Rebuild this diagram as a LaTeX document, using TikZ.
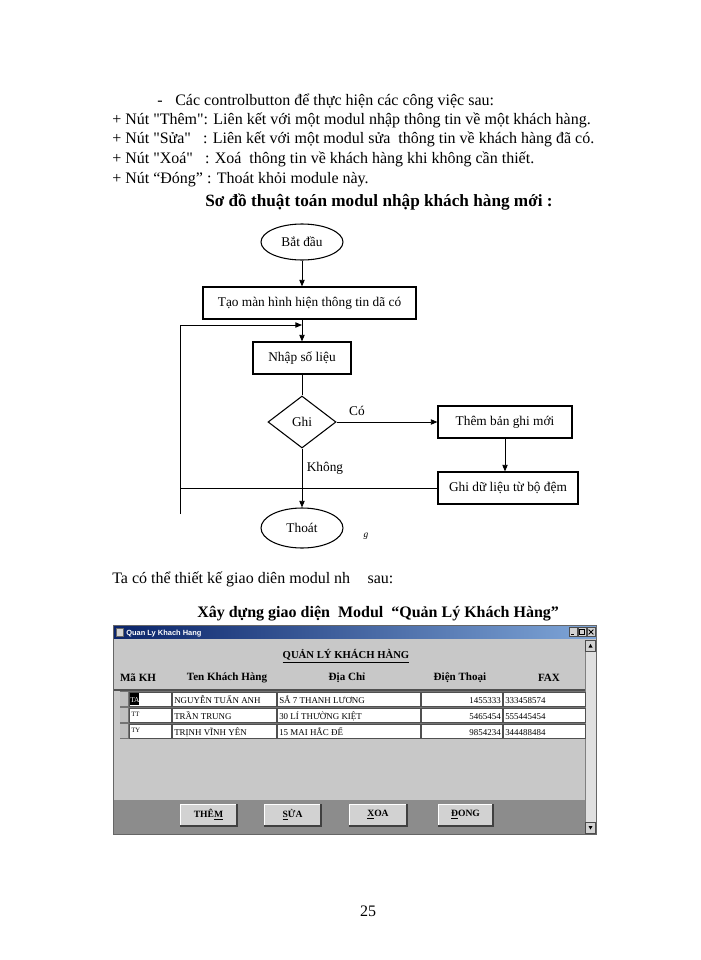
\documentclass[tikz,border=0pt]{standalone}
\usepackage{fontspec}
\setmainfont{Liberation Serif}
\newfontfamily\qfont{Liberation Serif}
\newfontfamily\uisans{Liberation Sans}
\newcommand\sq{{\qfont"}}
\usetikzlibrary{shapes.geometric,arrows.meta}
\definecolor{winbg}{HTML}{C8C8C8}
\definecolor{bardark}{HTML}{8C8C8C}
\definecolor{btnface}{HTML}{D2D2D2}
\definecolor{tbl}{HTML}{0A246A}
\definecolor{tbr}{HTML}{7FA6D8}
\definecolor{rowline}{HTML}{505050}
\begin{document}
\begin{tikzpicture}[x=0.75pt,y=-0.75pt,
  txt/.style={anchor=base west,inner sep=0pt,font=\fontsize{12}{14}\selectfont},
  head/.style={anchor=base west,inner sep=0pt,font=\fontsize{12.9}{14}\selectfont\bfseries},
  fc/.style={font=\fontsize{10}{11}\selectfont},
  procbox/.style={fc,draw,line width=0.8pt,minimum height=24pt,inner sep=2pt},
  term/.style={fc,draw,ellipse,line width=0.8pt,inner sep=0pt},
  dec/.style={fc,draw,diamond,line width=0.8pt,inner sep=0pt,minimum width=51pt,minimum height=39pt},
  ln/.style={line width=0.7pt},
  arr/.style={ln,-{Triangle[length=5pt,width=4pt]}},
  lbl/.style={fc,inner sep=0pt},
  cell/.style={fill=white,draw=rowline,line width=0.5pt},
  ctext/.style={inner sep=0pt,font=\fontsize{6.7}{7}\selectfont},
  colh/.style={inner sep=0pt,font=\fontsize{8.3}{10}\selectfont\bfseries},
  winbtn/.style={fill=btnface,draw=black!70,line width=0.5pt},
  btxt/.style={inner sep=0pt,font=\fontsize{7.2}{8}\selectfont\bfseries}
]
\useasboundingbox (0,0) rectangle (700,960);

% ---------------- top text ----------------
\node[txt] (t0) at (157,105) {-};
\node[txt] (t1) at (175,105) {Các controlbutton để thực hiện các công việc sau:};
\node[txt] (t2) at (112,124) {+ Nút \sq Thêm\sq: Liên kết với một modul nhập thông tin về một khách hàng.};
\node[txt] (t3) at (112,143) {+ Nút \sq Sửa\sq\hspace{6pt} : Liên kết với một modul sửa\ \ thông tin về khách hàng đã có.};
\node[txt] (t4) at (112,163) {+ Nút \sq Xoá\sq\hspace{6pt} : Xoá\ \ thông tin về khách hàng khi không cần thiết.};
\node[txt] (t5) at (112,183) {+ Nút “Đóng” : Thoát khỏi module này.};
\node[head] (h1) at (205,206) {Sơ đồ thuật toán modul nhập khách hàng mới :};

% ---------------- flowchart ----------------
\node[term,minimum width=61.5pt,minimum height=27pt] (bd) at (302,242) {Bắt đầu};
\node[procbox,minimum width=159.75pt] (tao) at (309.5,303) {Tạo màn hình hiện thông tin dã có};
\node[procbox,minimum width=73.5pt] (nhap) at (302,358) {Nhập số liệu};
\node[dec] (ghi) at (302,422) {Ghi};
\node[procbox,minimum width=100.5pt] (them) at (505,422) {Thêm bản ghi mới};
\node[procbox,minimum width=105pt] (ghidl) at (508,488) {Ghi dữ liệu từ bộ đệm};
\node[term,minimum width=61.5pt,minimum height=30pt] (thoat) at (302,528) {Thoát};
\coordinate (lt) at (180,325);
\coordinate (lb) at (180,514);
\coordinate (jn) at (302,325);

\draw[arr] (bd.south) -- (bd.south |- tao.north);
\draw[arr] (tao.south -| nhap.north) -- (nhap.north);
\draw[ln] (lb) -- (lt);
\draw[arr] (lt) -- (jn);
\draw[ln] (nhap.south) -- (ghi.north);
\draw[arr] (ghi.east) -- (them.west |- ghi.east);
\node[lbl] (co) at (357,411) {Có};
\draw[arr] (them.south) -- (them.south |- ghidl.north);
\draw[ln] (ghidl.west) -- (ghidl.west -| lt);
\draw[arr] (ghi.south) -- (thoat.north);
\node[lbl] (khong) at (325,468) {Không};
\node[inner sep=0pt,font=\fontsize{7}{8}\selectfont\itshape] (gg) at (366,536) {g};

% ---------------- middle text ----------------
\node[txt] (t6) at (112,583) {Ta có thể thiết kế giao diên modul nh\hspace{10pt} sau:};
\node[head,font=\fontsize{12}{14}\selectfont\bfseries] (h2) at (197,617) {Xây dựng giao diện\ \ Modul\ \ “Quản Lý Khách Hàng”};

% ---------------- window ----------------
\fill[black!60] (113,625) rectangle (597,835);
\fill[winbg] (114,638) rectangle (596,834);
\shade[left color=tbl,right color=tbr] (114,626) rectangle (596,638);
\fill[btnface] (116,628) rectangle (123,636);
\draw[black!60,line width=0.3pt] (116,628) rectangle (123,636);
\node[anchor=base west,inner sep=0pt,text=white,font=\uisans\fontsize{5.6}{6}\selectfont\bfseries] (wtitle) at (126,635) {Quan Ly Khach Hang};
\node[winbtn,minimum width=6pt,minimum height=6.5pt,inner sep=0pt] (bmin) at (573,632) {};
\node[winbtn,minimum width=6pt,minimum height=6.5pt,inner sep=0pt] (bmax) at (582,632) {};
\node[winbtn,minimum width=6pt,minimum height=6.5pt,inner sep=0pt] (bcls) at (591,632) {};
\draw[line width=0.6pt] ([xshift=-1.5pt,yshift=-2pt]bmin.center) -- ([xshift=1pt,yshift=-2pt]bmin.center);
\draw[line width=0.4pt] ([xshift=-2pt,yshift=-2pt]bmax.center) rectangle ([xshift=2pt,yshift=2pt]bmax.center);
\draw[line width=0.6pt] ([xshift=-1.8pt,yshift=-1.8pt]bcls.center) -- ([xshift=1.8pt,yshift=1.8pt]bcls.center);
\draw[line width=0.6pt] ([xshift=-1.8pt,yshift=1.8pt]bcls.center) -- ([xshift=1.8pt,yshift=-1.8pt]bcls.center);

% scrollbar
\fill[black!12] (585,640) rectangle (596,833);
\draw[black!50,line width=0.4pt] (585,640) -- (585,833);
\node[winbtn,minimum width=7.5pt,minimum height=8pt,inner sep=0pt] (sup) at (590.5,645.5) {};
\node[winbtn,minimum width=7.5pt,minimum height=8pt,inner sep=0pt] (sdn) at (590.5,827.5) {};
\fill (588.5,647.5) -- (592.5,647.5) -- (590.5,644) -- cycle;
\fill (588.5,826) -- (592.5,826) -- (590.5,829.5) -- cycle;

% heading
\node[colh,font=\fontsize{8}{9}\selectfont\bfseries] (qlkh) at (346,656) {\underline{QUẢN LÝ KHÁCH HÀNG}};
\node[colh] (ch1) at (138,678) {Mã KH};
\node[colh] (ch2) at (227,678) {Ten Khách Hàng};
\node[colh] (ch3) at (347,678) {Địa Chỉ};
\node[colh] (ch4) at (460,678) {Điện Thoại};
\node[colh] (ch5) at (549,678) {FAX};

% table
\fill[rowline] (114,689) rectangle (585,691);
\foreach \ya/\yb in {692/706,708/722,724/738}{
  \fill[black!55] (120,\ya-1) rectangle (585,\yb+1);
  \fill[black!25] (120,\ya) rectangle (128,\yb);
  \draw[cell] (129,\ya) rectangle (171,\yb);
  \draw[cell] (172,\ya) rectangle (276,\yb);
  \draw[cell] (277,\ya) rectangle (420,\yb);
  \draw[cell] (421,\ya) rectangle (502,\yb);
  \draw[cell] (503,\ya) rectangle (585,\yb);
}
\fill[black] (130,693) rectangle (139,705);
\node[ctext,anchor=base west,text=white,font=\fontsize{5.5}{6}\selectfont] (r1a) at (130,702) {TA};
\node[ctext,anchor=base west] (r1b) at (174,703) {NGUYỄN TUẤN ANH};
\node[ctext,anchor=base west] (r1c) at (279,703) {SẮ 7 THANH LƯƠNG};
\node[ctext,anchor=base east] (r1d) at (501,703) {1455333};
\node[ctext,anchor=base west] (r1e) at (505,703) {333458574};
\node[ctext,anchor=base west,font=\fontsize{5}{6}\selectfont] (r2a) at (131,716) {TT};
\node[ctext,anchor=base west] (r2b) at (174,719) {TRẦN TRUNG};
\node[ctext,anchor=base west] (r2c) at (279,719) {30 LÍ THƯỜNG KIỆT};
\node[ctext,anchor=base east] (r2d) at (501,719) {5465454};
\node[ctext,anchor=base west] (r2e) at (505,719) {555445454};
\node[ctext,anchor=base west,font=\fontsize{5}{6}\selectfont] (r3a) at (131,732) {TY};
\node[ctext,anchor=base west] (r3b) at (174,735) {TRỊNH VĨNH YÊN};
\node[ctext,anchor=base west] (r3c) at (279,735) {15 MAI HẮC ĐẾ};
\node[ctext,anchor=base east] (r3d) at (501,735) {9854234};
\node[ctext,anchor=base west] (r3e) at (505,735) {344488484};

% bottom bar
\fill[bardark] (114,800) rectangle (585,834);
\foreach \xa/\xb/\nm in {180/237/b1,264/321/b2,349/407/b3,438/493/b4}{
  \fill[btnface] (\xa,804) rectangle (\xb,826);
  \draw[white,line width=0.6pt] (\xa,826) -- (\xa,804) -- (\xb,804);
  \draw[black!75,line width=0.8pt] (\xa,826) -- (\xb,826) -- (\xb,804);
}
\node[btxt] (bt1) at (208.5,815) {THÊ\underline{M}};
\node[btxt] (bt2) at (292.5,815) {\underline{S}ỬA};
\node[btxt] (bt3) at (378,815) {\underline{X}OA};
\node[btxt] (bt4) at (465.5,815) {\underline{Đ}ONG};

% page number
\node[txt,anchor=base,font=\fontsize{12}{14}\selectfont] (pg) at (368,916) {25};
\end{tikzpicture}
\end{document}
